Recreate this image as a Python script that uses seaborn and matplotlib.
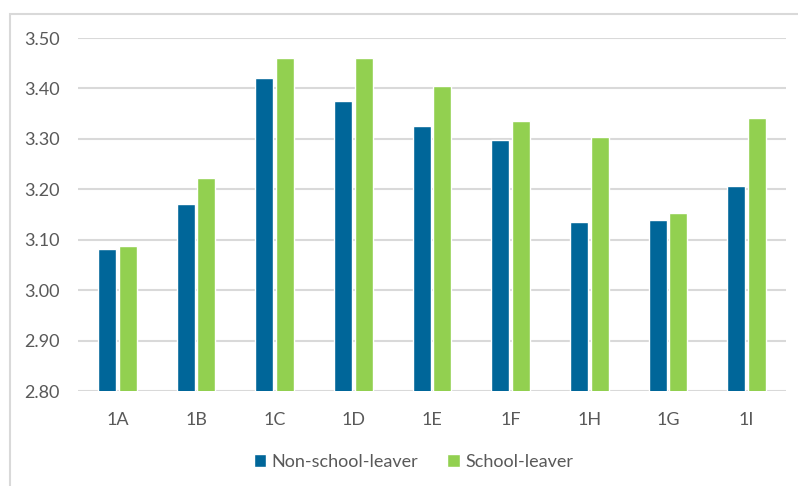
import matplotlib
matplotlib.use("Agg")
import matplotlib.pyplot as plt
import matplotlib.patches as mpatches
import seaborn as sns
import pandas as pd

categories = ["1A", "1B", "1C", "1D", "1E", "1F", "1H", "1G", "1I"]
non_school_leaver = [3.082, 3.170, 3.420, 3.375, 3.326, 3.297, 3.136, 3.140, 3.206]
school_leaver = [3.088, 3.223, 3.460, 3.460, 3.405, 3.335, 3.304, 3.153, 3.342]
series_names = ["Non-school-leaver", "School-leaver"]
y_ticks = [2.80, 2.90, 3.00, 3.10, 3.20, 3.30, 3.40, 3.50]

df = pd.DataFrame({
    "cat": categories * 2,
    "val": non_school_leaver + school_leaver,
    "series": [series_names[0]] * len(categories) + [series_names[1]] * len(categories),
})

sns.set_theme(style="white")
plt.rcParams["font.family"] = ["Lato", "DejaVu Sans"]
text_color = "#595959"
grid_color = "#D9D9D9"
colors = ["#006699", "#92D050"]

W, H = 798, 486
fig = plt.figure(figsize=(W / 100, H / 100), dpi=100)
ax = fig.add_axes([78 / W, 1 - 391 / H, (786 - 78) / W, (391 - 38) / H])

sns.barplot(data=df, x="cat", y="val", hue="series", palette=colors,
            width=0.52, gap=0.12, ax=ax, legend=True, saturation=1)

ax.set_ylim(2.8, 3.5)
ax.set_xlim(-0.5, len(categories) - 0.5)
ax.set_yticks(y_ticks)
ax.set_yticklabels([f"{t:.2f}" for t in y_ticks])
ax.yaxis.grid(True, color=grid_color, linewidth=1.5)
ax.set_axisbelow(True)
for s in ax.spines.values():
    s.set_visible(False)
ax.set_xlabel("")
ax.set_ylabel("")
ax.tick_params(axis="both", length=0, labelsize=13, colors=text_color)
ax.tick_params(axis="y", pad=13)
ax.tick_params(axis="x", pad=15)

handles, labels = ax.get_legend_handles_labels()
ax.legend_.remove()
fig.legend(handles, labels, loc="center", bbox_to_anchor=(413.5 / W, 1 - 462 / H),
           ncol=2, frameon=False, fontsize=13, labelcolor=text_color,
           handlelength=0.7, handleheight=0.7, handletextpad=0.3, columnspacing=1.6)

# chart area frame (left and top visible)
frame = mpatches.Rectangle((10 / W, -0.1), 1.2, (1 - 14 / H) + 0.1, transform=fig.transFigure,
                           fill=False, edgecolor=grid_color, linewidth=1.5, clip_on=False)
fig.patches.append(frame)

fig.savefig("out.png", dpi=100)
